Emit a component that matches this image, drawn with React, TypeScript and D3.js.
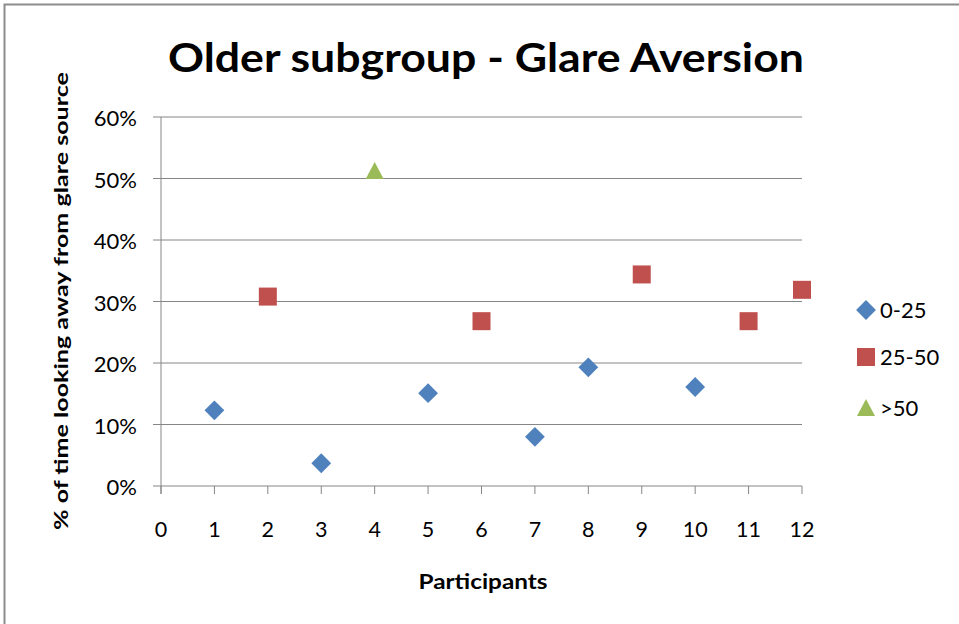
import React from "react";
import * as d3 from "d3";

const series0Name = "0-25";
const series0X = [1, 3, 5, 7, 8, 10];
const series0Y = [0.123, 0.037, 0.151, 0.08, 0.193, 0.161];
const series1Name = "25-50";
const series1X = [2, 6, 9, 11, 12];
const series1Y = [0.308, 0.268, 0.344, 0.268, 0.319];
const series2Name = ">50";
const series2X = [4];
const series2Y = [0.512];
const xTicks = [0, 1, 2, 3, 4, 5, 6, 7, 8, 9, 10, 11, 12];
const yTicks = [0, 0.1, 0.2, 0.3, 0.4, 0.5, 0.6];

const title = "Older subgroup - Glare Aversion";
const xTitle = "Participants";
const yTitle = "% of time looking away from glare source";

const BLUE = "#4F81BD";
const RED = "#C0504D";
const GREEN = "#9BBB59";
const GRID = "#868686";
const FONT = "Lato, 'Open Sans', sans-serif";

export default function App() {
  const W = 959;
  const H = 624;
  const x = d3.scaleLinear().domain([0, 12]).range([161, 802]);
  const y = d3.scaleLinear().domain([0, 0.6]).range([486, 117]);
  const pct = d3.format(".0%");

  const diamondPath = d3.symbol().type(d3.symbolSquare).size(196)();

  const series = [
    { name: series0Name, xs: series0X, ys: series0Y, kind: "diamond" },
    { name: series1Name, xs: series1X, ys: series1Y, kind: "square" },
    { name: series2Name, xs: series2X, ys: series2Y, kind: "triangle" },
  ];

  const renderMarker = (kind: string, cx: number, cy: number, key: string) => {
    if (kind === "diamond") {
      return (
        <path
          key={key}
          d={diamondPath || ""}
          transform={`translate(${cx},${cy}) rotate(45)`}
          fill={BLUE}
        />
      );
    }
    if (kind === "square") {
      return <rect key={key} x={cx - 9} y={cy - 9} width={18} height={18} fill={RED} />;
    }
    return (
      <path
        key={key}
        d={`M${cx},${cy - 9}L${cx + 9},${cy + 8}L${cx - 9},${cy + 8}Z`}
        fill={GREEN}
      />
    );
  };

  return (
    <svg
      width={W}
      height={H}
      style={{ position: "absolute", left: 0, top: 0, background: "#fff" }}
    >
      <rect x={4.5} y={4.5} width={W + 10} height={H + 10} fill="#fff" stroke="#8c8c8c" strokeWidth={2} />
      <text
        x={486}
        y={72}
        textAnchor="middle"
        fontFamily={FONT}
        fontWeight="bold"
        fontSize={40}
        textLength={636}
        lengthAdjust="spacingAndGlyphs"
      >
        {title}
      </text>

      {yTicks.map((t) => (
        <g key={"y" + t}>
          <line x1={153} x2={802} y1={y(t)} y2={y(t)} stroke={GRID} strokeWidth={1} />
          <text
            x={137}
            y={y(t) + 9}
            textAnchor="end"
            fontFamily={FONT}
            fontSize={22}
            fill="#000"
          >
            {pct(t)}
          </text>
        </g>
      ))}
      <line x1={161} x2={161} y1={117} y2={494} stroke={GRID} strokeWidth={1} />
      {xTicks.map((t) => (
        <g key={"x" + t}>
          <line x1={x(t)} x2={x(t)} y1={486} y2={494} stroke={GRID} strokeWidth={1} />
          <text
            x={x(t)}
            y={537}
            textAnchor="middle"
            fontFamily={FONT}
            fontSize={21.5}
            fill="#000"
          >
            {t}
          </text>
        </g>
      ))}

      {series.map((s) =>
        s.xs.map((xv, i) => renderMarker(s.kind, x(xv), y(s.ys[i]), s.name + i))
      )}

      <text
        x={483}
        y={589}
        textAnchor="middle"
        fontFamily={FONT}
        fontWeight="bold"
        fontSize={21}
        textLength={129}
        lengthAdjust="spacingAndGlyphs"
      >
        {xTitle}
      </text>
      <text
        transform={`translate(68,301) rotate(-90)`}
        textAnchor="middle"
        fontFamily={FONT}
        fontWeight="bold"
        fontSize={18}
        textLength={458}
        lengthAdjust="spacingAndGlyphs"
      >
        {yTitle}
      </text>

      {series.map((s, i) => {
        const ly = [310, 357, 408][i];
        return (
          <g key={"leg" + i}>
            {renderMarker(s.kind, 866, ly, "lm" + i)}
            <text x={880} y={ly + 8} fontFamily={FONT} fontSize={22}>
              {s.name}
            </text>
          </g>
        );
      })}
    </svg>
  );
}
